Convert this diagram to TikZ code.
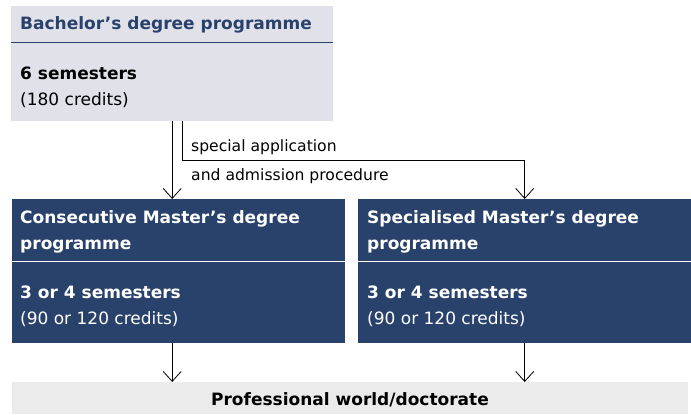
\documentclass[tikz,border=0pt]{standalone}
\usepackage{fontspec}
\setmainfont{DejaVu Sans}
\usetikzlibrary{calc}
\usetikzlibrary{arrows.meta}
\definecolor{navy}{HTML}{29426C}
\definecolor{lilac}{HTML}{E1E1EA}
\definecolor{pale}{HTML}{EBEBEB}

\begin{document}
\begin{tikzpicture}[x=1pt,y=1pt,
  box/.style={anchor=north west, inner sep=0pt, draw=none},
  txt/.style={anchor=base west, inner sep=0pt, align=left, font=\fontsize{17}{26}\selectfont},
  note/.style={anchor=base west, inner sep=0pt, font=\fontsize{15.6}{17}\selectfont},
  arr/.style={-{Straight Barb[length=10pt,width=18pt]}, line width=0.8pt}]

\useasboundingbox (0,0) rectangle (691,-415);

% boxes
\node[box, fill=lilac, minimum width=322, minimum height=36] (bachhead) at (11,-6) {};
\node[box, fill=lilac, minimum width=322, minimum height=79] (bachbody) at (11,-42) {};
\node[box, fill=navy, minimum width=333, minimum height=62] (conshead) at (12,-199) {};
\node[box, fill=navy, minimum width=333, minimum height=82] (consbody) at (12,-261) {};
\node[box, fill=navy, minimum width=333, minimum height=62] (spechead) at (358,-199) {};
\node[box, fill=navy, minimum width=333, minimum height=82] (specbody) at (358,-261) {};
\node[box, fill=pale, minimum width=676, minimum height=32] (job) at (12,-382) {};

% dividers
\draw[navy, line width=1pt] (bachhead.south west) -- (bachhead.south east);
\draw[white, line width=1pt] (conshead.south west) -- (conshead.south east);
\draw[white, line width=1pt] (spechead.south west) -- (spechead.south east);

% texts (base = last line)
\node[txt, text=navy] (bachtitle) at (20,-29.5) {\bfseries Bachelor’s degree programme};
\node[txt] (bachsem) at (20,-105) {\bfseries 6 semesters\\(180 credits)};
\node[txt, text=white] (constitle) at (20,-249) {\bfseries Consecutive Master’s degree\\\bfseries programme};
\node[txt, text=white] (conssem) at (20,-324) {\bfseries 3 or 4 semesters\\(90 or 120 credits)};
\node[txt, text=white] (spectitle) at (367,-249) {\bfseries Specialised Master’s degree\\\bfseries programme};
\node[txt, text=white] (specsem) at (367,-324) {\bfseries 3 or 4 semesters\\(90 or 120 credits)};
\node[txt, anchor=base] (jobtext) at (350,-405) {\bfseries Professional world/doctorate};

% connectors
\coordinate (split) at ($(bachbody.south)+(10,0)$);
\draw[arr] (bachbody.south) -- (bachbody.south |- conshead.north);
\draw[arr] (split) -- ++(0,-39) -| (spechead.north);
\node[note] (apply) at (191,-151) {special application};
\node[note] (admit) at (191,-180) {and admission procedure};
\draw[arr] (bachbody.south |- consbody.south) -- (bachbody.south |- job.north);
\draw[arr] (specbody.south) -- (specbody.south |- job.north);

\end{tikzpicture}
\end{document}
